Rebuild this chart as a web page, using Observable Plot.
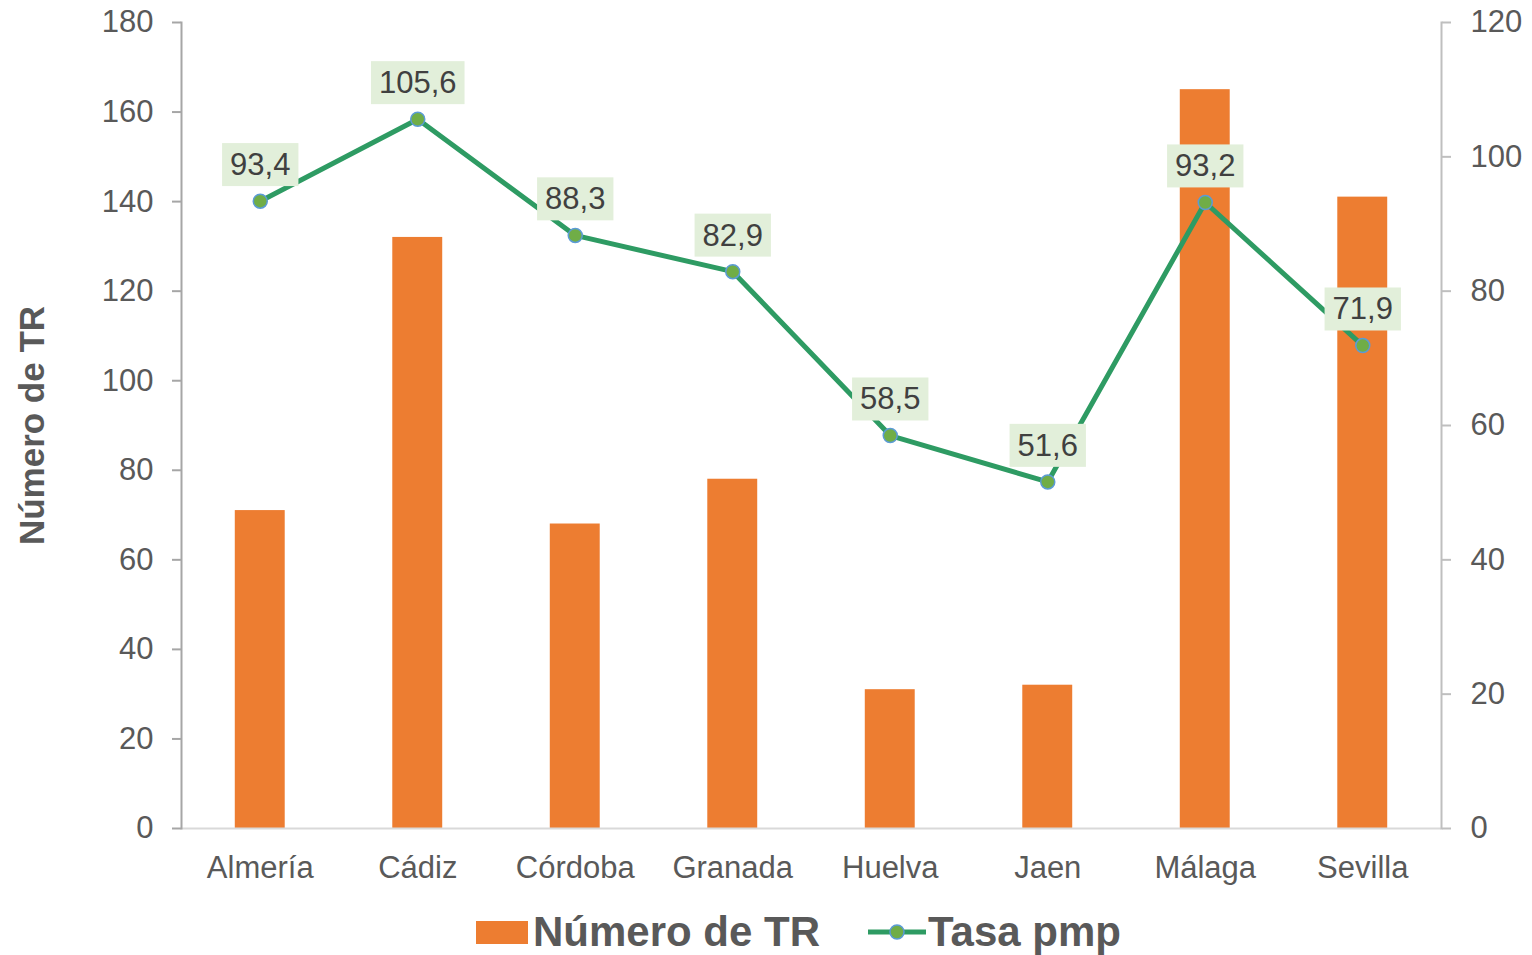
<!DOCTYPE html>
<html>
<head>
<meta charset="utf-8">
<script src="https://cdn.jsdelivr.net/npm/d3@7"></script>
<script src="https://cdn.jsdelivr.net/npm/@observablehq/plot@0.6"></script>
<style>
  html, body { margin: 0; padding: 0; background: #ffffff; overflow: hidden; }
  body { font-family: "Liberation Sans", Arial, sans-serif; }
  #chart { position: absolute; left: 0; top: 0; }
  #legend { position: absolute; left: 476px; top: 911px; display: flex; align-items: center;
            font-weight: bold; font-size: 42px; line-height: 1; color: #595959; }
  #legend svg { display: block; }
</style>
</head>
<body>
<div id="chart"></div>
<div id="legend"></div>
<script>
// ---- data ----
const provincias = ["Almería", "Cádiz", "Córdoba", "Granada", "Huelva", "Jaen", "Málaga", "Sevilla"];
const numeroTR = [71, 132, 68, 78, 31, 32, 165, 141];
const tasaPmp = [93.4, 105.6, 88.3, 82.9, 58.5, 51.6, 93.2, 71.9];
const leftTicks = [0, 20, 40, 60, 80, 100, 120, 140, 160, 180];
const rightTicks = [0, 20, 40, 60, 80, 100, 120];
const seriesNames = ["Número de TR", "Tasa pmp"];
const yTitle = "Número de TR";

// ---- styles ----
const barColor = "#ED7D31";
const lineColor = "#2E9B63";
const dotFill = "#70AD47";
const dotStroke = "#5B9BD5";
const labelBg = "#E2EFDA";
const textColor = "#595959";

const leftMax = 180, rightMax = 120;
const ratio = leftMax / rightMax;

const data = provincias.map((p, i) => ({prov: p, n: numeroTR[i], tasa: tasaPmp[i]}));
const fmt = v => v.toFixed(1).replace(".", ",");

const plot = Plot.plot({
  width: 1532,
  height: 895,
  marginLeft: 181,
  marginRight: 91,
  marginTop: 22,
  marginBottom: 67,
  style: {fontFamily: "'Liberation Sans', Arial, sans-serif", fontSize: "31px", color: textColor, background: "#ffffff"},
  x: {domain: provincias, paddingInner: 0.683, paddingOuter: 0.3415, round: false, label: null},
  y: {domain: [0, leftMax], label: null},
  marks: [
    Plot.barY(data, {x: "prov", y: "n", fill: barColor}),
    Plot.ruleY([0], {stroke: "#d9d9d9", strokeWidth: 2}),
    Plot.frame({anchor: "left", stroke: "#a6a6a6", strokeWidth: 2}),
    Plot.frame({anchor: "right", stroke: "#bfbfbf", strokeWidth: 2}),
    Plot.axisX({tickSize: 0, tickPadding: 27, fontSize: 31, fill: textColor, label: null}),
    Plot.axisY(leftTicks, {anchor: "left", tickSize: 9, tickPadding: 19, stroke: "#a6a6a6", strokeWidth: 2,
      fontSize: 31, fill: textColor, label: null}),
    Plot.axisY(rightTicks.map(v => v * ratio), {anchor: "right", tickSize: 9, tickPadding: 20, stroke: "#bfbfbf", strokeWidth: 2,
      fontSize: 31, fill: textColor, label: null, tickFormat: d => String(Math.round(d / ratio))}),
    Plot.text([yTitle], {text: d => d, frameAnchor: "left", textAnchor: "middle", dx: -149, rotate: -90,
      fontSize: 35, fontWeight: "bold", fill: textColor}),
    Plot.line(data, {x: "prov", y: d => d.tasa * ratio, stroke: lineColor, strokeWidth: 5}),
    Plot.dot(data, {x: "prov", y: d => d.tasa * ratio, r: 7, fill: dotFill, stroke: dotStroke, strokeWidth: 1.5}),
    Plot.text(data, {x: "prov", y: d => d.tasa * ratio, text: d => fmt(d.tasa), dy: -36,
      fontSize: 31, fill: "#404040"})
  ]
});

document.getElementById("chart").append(plot);

// label backgrounds behind the data labels
const labelSet = new Set(tasaPmp.map(fmt));
d3.select(plot).selectAll("text").each(function() {
  if (!labelSet.has(this.textContent)) return;
  const bb = this.getBBox();
  const rect = document.createElementNS("http://www.w3.org/2000/svg", "rect");
  rect.setAttribute("x", bb.x - 8);
  rect.setAttribute("y", bb.y - 4);
  rect.setAttribute("width", bb.width + 16);
  rect.setAttribute("height", bb.height + 8);
  rect.setAttribute("fill", labelBg);
  const t = this.getAttribute("transform");
  if (t) rect.setAttribute("transform", t);
  this.parentNode.insertBefore(rect, this);
});

// legend
const legend = d3.select("#legend");
const sw1 = legend.append("svg").attr("width", 52).attr("height", 23);
sw1.append("rect").attr("width", 52).attr("height", 23).attr("fill", barColor);
legend.append("span").style("margin-left", "5px").text(seriesNames[0]);
const sw2 = legend.append("svg").attr("width", 58).attr("height", 18).style("margin-left", "48px");
sw2.append("line").attr("x1", 0).attr("x2", 58).attr("y1", 9).attr("y2", 9)
  .attr("stroke", lineColor).attr("stroke-width", 5).attr("stroke-linecap", "round");
sw2.append("circle").attr("cx", 29).attr("cy", 9).attr("r", 7)
  .attr("fill", dotFill).attr("stroke", dotStroke).attr("stroke-width", 1.5);
legend.append("span").style("margin-left", "2px").text(seriesNames[1]);
</script>
</body>
</html>
